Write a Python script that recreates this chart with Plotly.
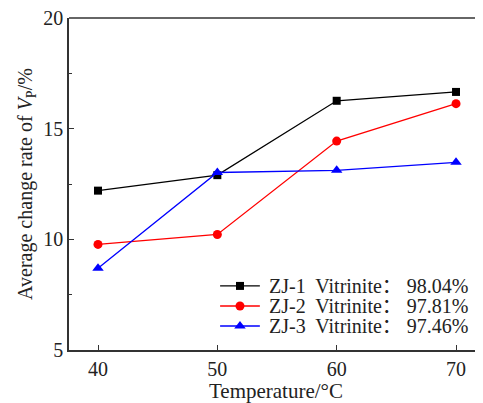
import plotly.graph_objects as go

temperature = [40, 50, 60, 70]
zj1 = [12.20, 12.90, 16.26, 16.66]
zj2 = [9.77, 10.22, 14.44, 16.13]
zj3 = [8.69, 13.02, 13.12, 13.48]
names = ["ZJ-1  Vitrinite： 98.04%", "ZJ-2  Vitrinite： 97.81%", "ZJ-3  Vitrinite： 97.46%"]
colors = ["#000000", "#ff0000", "#0000ff"]
symbols = ["square", "circle", "triangle-up"]
sizes = [8, 9, 10]

FONT = "Liberation Serif, Noto Sans CJK SC"
AX = "#333333"

fig = go.Figure()
for ys, nm, c, s, sz in zip([zj1, zj2, zj3], names, colors, symbols, sizes):
    fig.add_trace(go.Scatter(
        x=temperature, y=ys, name=nm, mode="lines+markers",
        line=dict(color=c, width=1.3),
        marker=dict(symbol=s, size=sz, color=c),
        showlegend=False,
    ))

# custom legend (compact row spacing like the reference)
leg_rows = [0.193, 0.1325, 0.0723]
leg_x0, leg_x1, leg_xm, leg_xt = 0.365, 0.461, 0.413, 0.478
shapes = [dict(type="line", xref="paper", yref="paper", x0=0, x1=1, y0=1, y1=1,
               line=dict(color=AX, width=1.5))]
annotations = []
for ry, nm, c, s, sz in zip(leg_rows, names, colors, symbols, sizes):
    shapes.append(dict(type="line", xref="paper", yref="paper", x0=leg_x0, x1=leg_x1,
                       y0=ry, y1=ry, line=dict(color=c, width=1.3)))
    annotations.append(dict(xref="paper", yref="paper", x=leg_xt, y=ry, text=nm,
                            showarrow=False, xanchor="left", yanchor="middle",
                            font=dict(family=FONT, size=20, color="#222222")))
    fig.add_trace(go.Scatter(x=[leg_xm], y=[ry], xaxis="x2", yaxis="y2", mode="markers",
                             marker=dict(symbol=s, size=sz, color=c), showlegend=False,
                             hoverinfo="skip"))

fig.update_layout(
    width=475, height=395,
    margin=dict(l=61, r=0, t=10, b=53),
    plot_bgcolor="white", paper_bgcolor="white",
    font=dict(family=FONT, size=19, color="#222222"),
    showlegend=False,
    xaxis=dict(
        range=[37.57, 72.26], tickvals=temperature, ticktext=[str(t) for t in temperature],
        showline=True, linecolor=AX, linewidth=1.5, mirror=False,
        ticks="inside", ticklen=5, tickwidth=1, tickcolor=AX,
        showgrid=False, zeroline=False,
        tickfont=dict(family=FONT, size=20),
        title=dict(text="Temperature/°C", font=dict(family=FONT, size=21), standoff=3),
    ),
    yaxis=dict(
        range=[5, 20], tickvals=[5, 10, 15, 20],
        showline=True, linecolor=AX, linewidth=1.5, mirror=False,
        ticks="inside", ticklen=5, tickwidth=1, tickcolor=AX,
        minor=dict(tickvals=[7.5, 12.5, 17.5], ticks="inside", ticklen=3, tickcolor=AX),
        showgrid=False, zeroline=False, ticklabeloverflow="allow",
        tickfont=dict(family=FONT, size=20),
        title=dict(text="Average change rate of <i>V</i><sub>P</sub>/%", font=dict(family=FONT, size=20), standoff=5),
    ),
    xaxis2=dict(overlaying="x", range=[0, 1], visible=False, fixedrange=True),
    yaxis2=dict(overlaying="y", range=[0, 1], visible=False, fixedrange=True),
    shapes=shapes,
    annotations=annotations,
)

fig.write_html("out.html")
